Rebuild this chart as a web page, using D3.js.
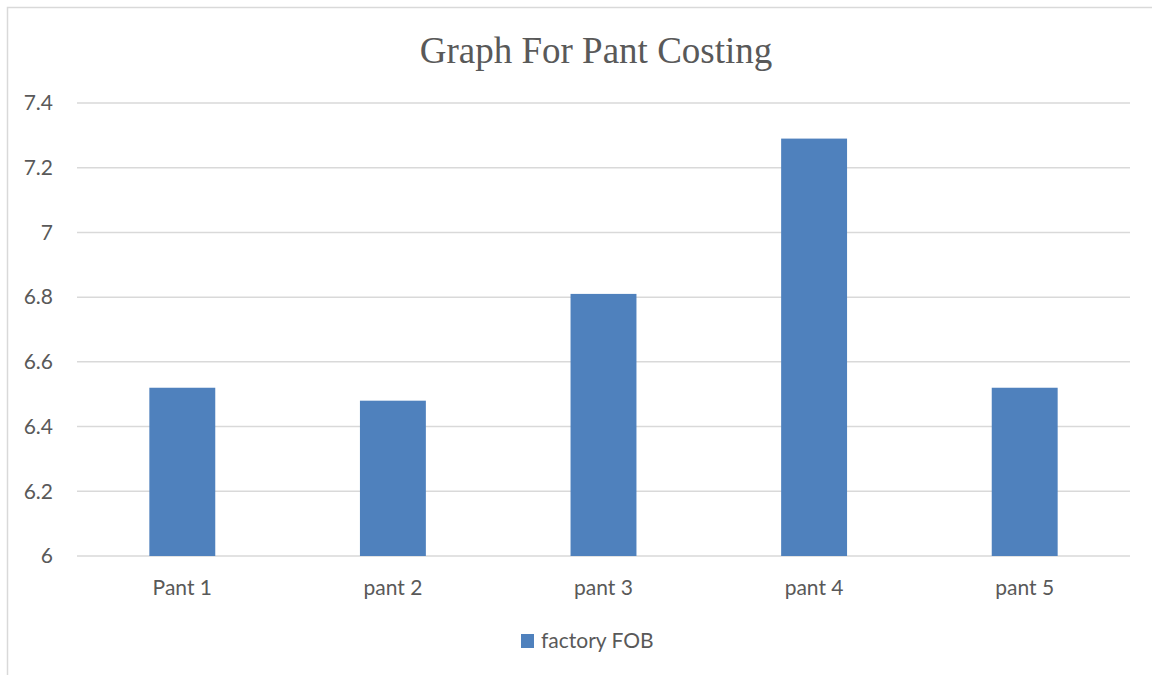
<!DOCTYPE html>
<html>
<head>
<meta charset="utf-8">
<script src="https://cdn.jsdelivr.net/npm/d3@7"></script>
<style>
  html, body { margin: 0; padding: 0; background: #fff; }
</style>
</head>
<body>
<div id="chart"></div>
<script>
// données du graphique
const categories = ["Pant 1", "pant 2", "pant 3", "pant 4", "pant 5"];
const factoryFOB = [6.52, 6.48, 6.81, 7.29, 6.52];
const yTicks = [6, 6.2, 6.4, 6.6, 6.8, 7, 7.2, 7.4];
const seriesName = "factory FOB";
const title = "Graph For Pant Costing";

const width = 1152, height = 675;
const margin = { top: 103, right: 22, bottom: 119, left: 77 };
const labelFont = "Lato, 'Open Sans', sans-serif";

const svg = d3.select("#chart").append("svg")
    .attr("width", width)
    .attr("height", height);

// cadre du graphique
svg.append("rect")
    .attr("x", 7.5).attr("y", 7.5)
    .attr("width", 1170).attr("height", 700)
    .attr("fill", "none")
    .attr("stroke", "#d9d9d9")
    .attr("stroke-width", 1.5);

const x = d3.scaleBand()
    .domain(categories)
    .range([margin.left, width - margin.right])
    .paddingInner(0.687)
    .paddingOuter(0.3435);

const y = d3.scaleLinear()
    .domain([6, 7.4])
    .range([height - margin.bottom, margin.top]);

// lignes de grille
svg.append("g")
    .selectAll("line")
    .data(yTicks)
    .enter()
    .append("line")
    .attr("x1", margin.left)
    .attr("x2", width - margin.right)
    .attr("y1", d => y(d))
    .attr("y2", d => y(d))
    .attr("stroke", "#d9d9d9")
    .attr("stroke-width", 1.5);

// barres
svg.append("g")
    .selectAll("rect")
    .data(factoryFOB)
    .enter()
    .append("rect")
    .attr("x", (d, i) => x(categories[i]))
    .attr("width", x.bandwidth())
    .attr("y", d => y(d))
    .attr("height", d => y(6) - y(d))
    .attr("fill", "#4f81bd");

// axe Y
const yAxis = d3.axisLeft(y)
    .tickValues(yTicks)
    .tickFormat(d => d3.format("~g")(d))
    .tickSize(0)
    .tickPadding(24);

svg.append("g")
    .attr("transform", `translate(${margin.left},0)`)
    .call(yAxis)
    .call(g => g.select(".domain").remove())
    .selectAll("text")
    .attr("font-family", labelFont)
    .attr("font-size", "21px")
    .attr("fill", "#595959");

// axe X
const xAxis = d3.axisBottom(x)
    .tickSize(0)
    .tickPadding(24);

svg.append("g")
    .attr("transform", `translate(0,${y(6)})`)
    .call(xAxis)
    .call(g => g.select(".domain").remove())
    .selectAll("text")
    .attr("font-family", labelFont)
    .attr("font-size", "21px")
    .attr("fill", "#595959");

// titre
svg.append("text")
    .attr("x", 596)
    .attr("y", 63)
    .attr("text-anchor", "middle")
    .attr("font-family", "'Liberation Serif', 'Times New Roman', serif")
    .attr("font-size", "37px")
    .attr("fill", "#595959")
    .text(title);

// légende
const legend = svg.append("g").attr("transform", "translate(521,634)");
legend.append("rect")
    .attr("width", 13).attr("height", 14)
    .attr("fill", "#4f81bd");
legend.append("text")
    .attr("x", 20)
    .attr("y", 14)
    .attr("font-family", labelFont)
    .attr("font-size", "21px")
    .attr("fill", "#595959")
    .text(seriesName);
</script>
</body>
</html>
